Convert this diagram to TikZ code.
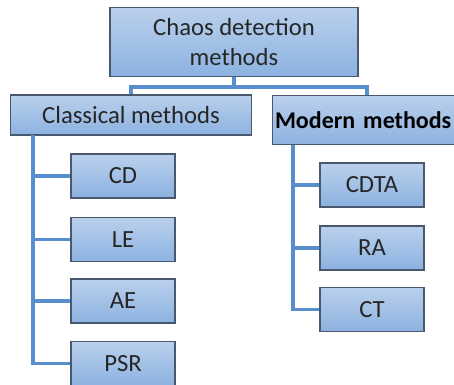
\documentclass[tikz,border=0pt]{standalone}
\usepackage{fontspec}
\setmainfont{Carlito}
\usetikzlibrary{positioning}

\definecolor{boxtop}{RGB}{186,208,236}
\definecolor{boxbot}{RGB}{140,178,224}
\definecolor{boxline}{RGB}{72,88,110}
\definecolor{linkblue}{RGB}{88,142,206}

\tikzset{
  box/.style={draw=boxline,line width=1pt,top color=boxtop,bottom color=boxbot,
    align=center,inner sep=2pt,text=black!85,font=\fontsize{18.5}{22}\selectfont},
  kid/.style={box,minimum width=78pt,minimum height=33pt},
  link/.style={draw=linkblue,line width=2.3pt}
}

\begin{document}
\begin{tikzpicture}[x=0.75pt,y=-0.75pt]
\useasboundingbox (0,0) rectangle (454,385);

%Top
\node (root) at (234,42) [box,minimum width=186pt,minimum height=52pt] {Chaos detection\\methods};
\node (classical) at (131,115) [box,minimum width=181pt,minimum height=30pt] {Classical methods};
\node (modern) at (373,120) [box,text width=147pt,align=left,minimum height=37pt,text=black,
  font=\fontsize{18}{22}\selectfont\bfseries] {Modern methods};

\coordinate (mid) at (234,87);
\coordinate (mtop) at (367,95);
\draw[link] (root.south) -- (mid) -| (classical.north);
\draw[link] (mid) -| (mtop);

%Classical
\node (cd)  at (123,176)   [kid] {CD};
\node (le)  at (123,239.5) [kid] {LE};
\node (ae)  at (123,301)   [kid] {AE};
\node (psr) at (123,363.5) [kid] {PSR};

\coordinate (ltrunk) at (33,135);
\draw[link] (ltrunk) |- (psr.west);
\draw[link] (ltrunk) |- (cd.west);
\draw[link] (ltrunk) |- (le.west);
\draw[link] (ltrunk) |- (ae.west);

%Modern
\node (cdta) at (372,185)   [kid] {CDTA};
\node (ra)   at (372,248)   [kid] {RA};
\node (ct)   at (372,309.5) [kid] {CT};

\coordinate (rtrunk) at (293,145);
\draw[link] (rtrunk) |- (ct.west);
\draw[link] (rtrunk) |- (cdta.west);
\draw[link] (rtrunk) |- (ra.west);

\end{tikzpicture}
\end{document}
